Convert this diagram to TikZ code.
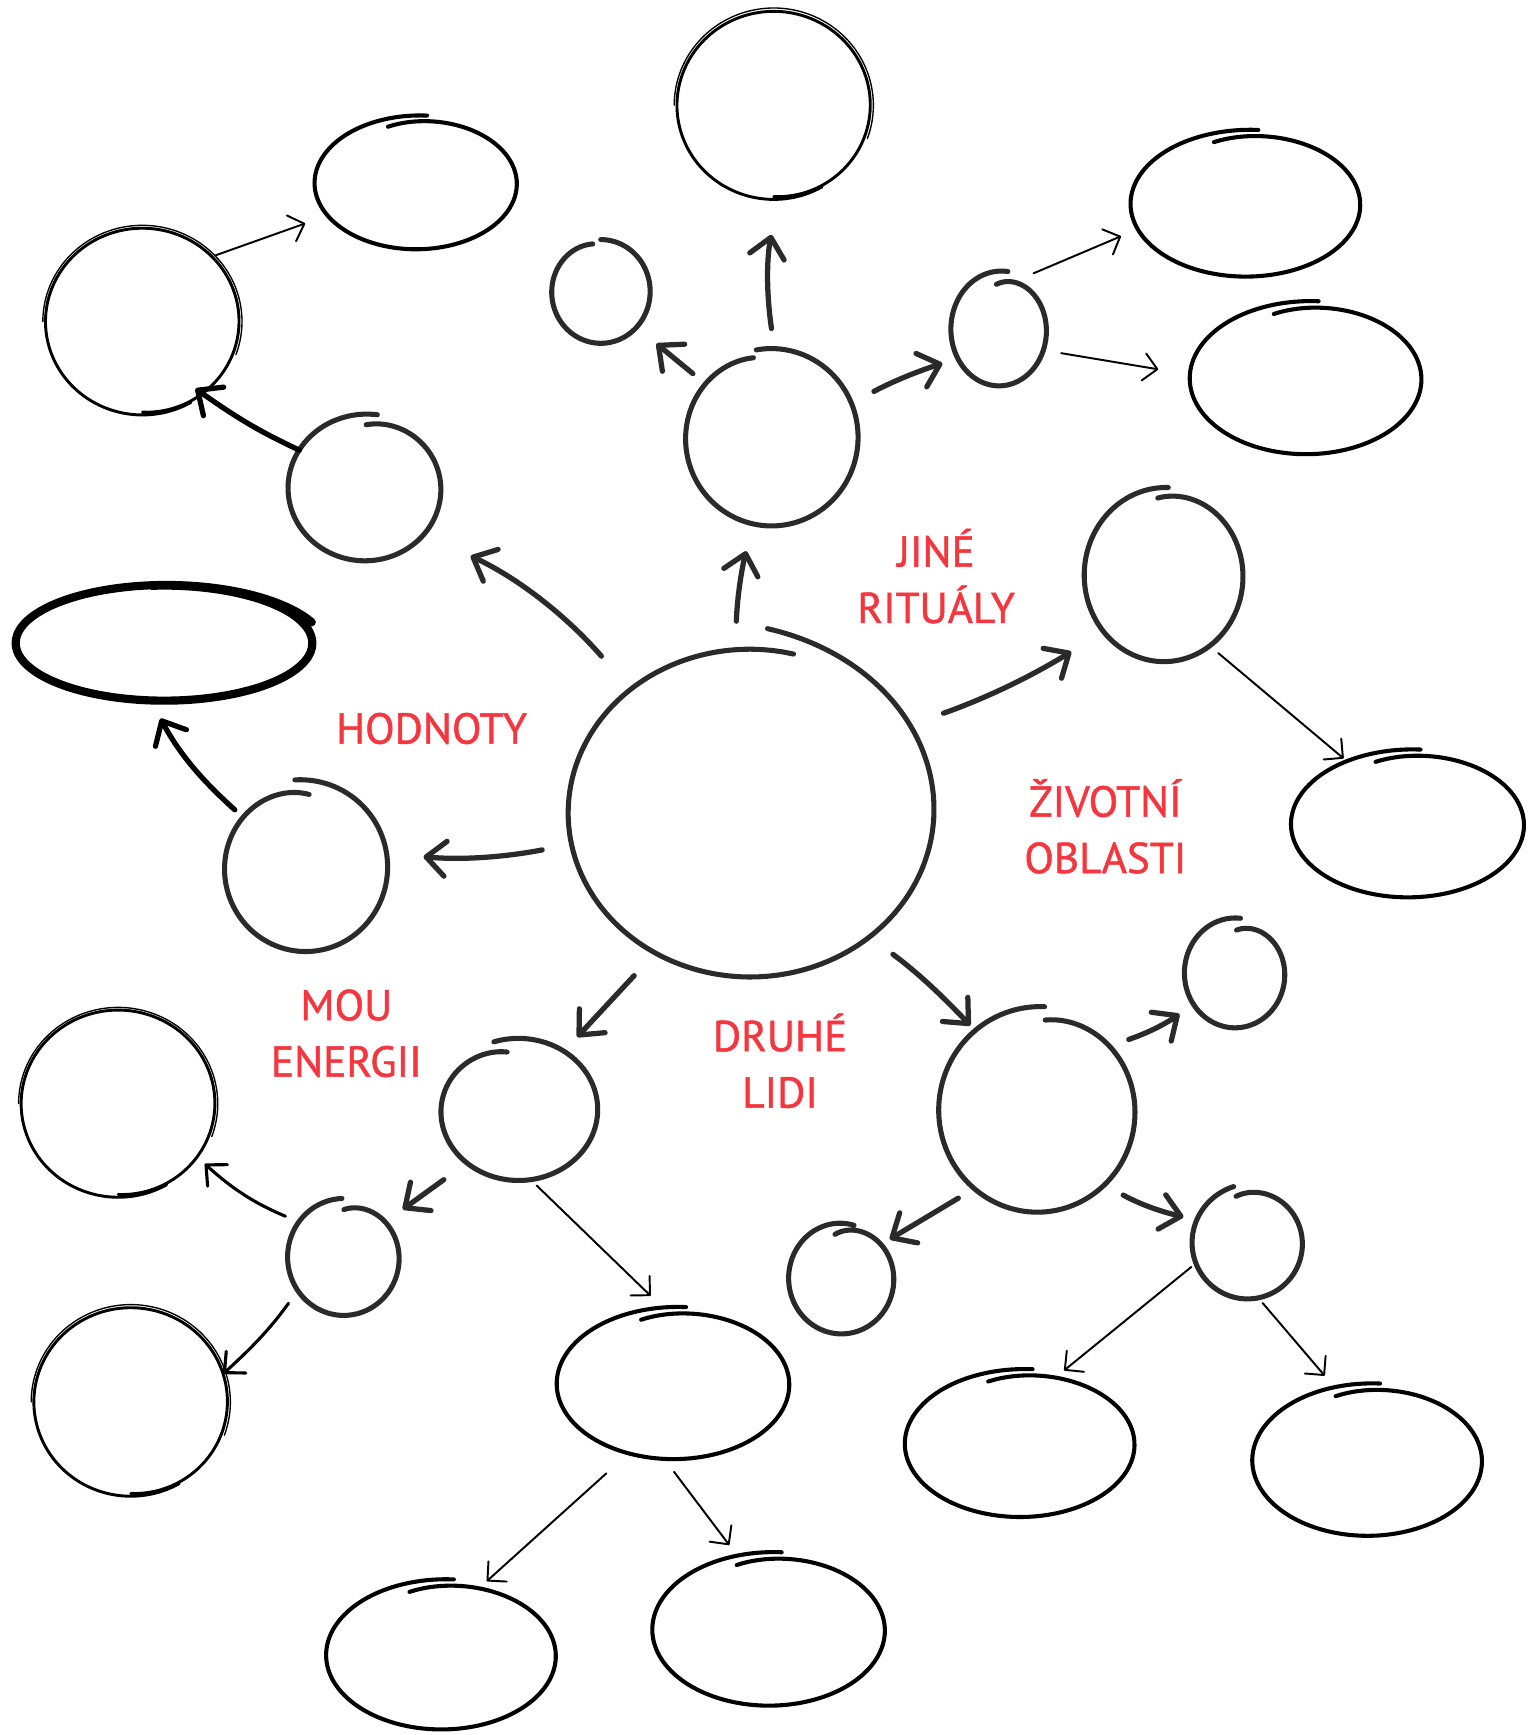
\documentclass[tikz,border=0pt]{standalone}
\usepackage{fontspec}
\setmainfont{PT Sans}
\newfontfamily\labfont{PT Sans}[FakeBold=1.1]
\usetikzlibrary{arrows.meta,shapes.geometric}
\definecolor{ink}{HTML}{2A2A2A}
\definecolor{lbl}{HTML}{F5363F}
% hand-drawn loop round a named node: style, node, rx, ry, start angle, sweep, start bump, end bump
\newcommand\hand[8][]{%
  \draw[#1, shift={(#2.center)}] plot[smooth, samples=110, variable=\u, domain=0:#6]
   ({#3*(1+(#7)*exp(-\u/40)+(#8)*exp(-(#6-\u)/40))*cos(#5-\u)},
    {-#4*(1+(#7)*exp(-\u/40)+(#8)*exp(-(#6-\u)/40))*sin(#5-\u)});}
\begin{document}
\begin{tikzpicture}[x=0.01cm, y=-0.01cm,
  nd/.style 2 args={ellipse, draw=none, inner sep=0pt, outer sep=0pt,
    minimum width=#1*0.02cm, minimum height=#2*0.02cm},
  gc/.style={draw=ink, line width=1.3pt, line cap=round, line join=round},
  be/.style={draw=black, line width=1.05pt, line cap=round, line join=round},
  tk/.style={draw=black, line width=2.1pt, line cap=round, line join=round},
  sk/.style={draw=black, line width=0.75pt, line cap=round},
  skb/.style={draw=black, line width=0.35pt, line cap=round},
  thk/.style={draw=ink, line width=1.35pt, line cap=round,
    -{Straight Barb[length=5pt,width=9pt,round]}},
  thkb/.style={thk, draw=black},
  med/.style={draw=black, line width=0.8pt, line cap=round,
    -{Straight Barb[length=4pt,width=7.5pt,round]}},
  thn/.style={draw=black, line width=0.5pt, line cap=round,
    -{Straight Barb[length=3.5pt,width=7pt,round]}},
  lab/.style={text=lbl, font=\labfont\fontsize{11.1pt}{14.5pt}\selectfont, align=center, inner sep=0pt}
]
\fill[white] (0,0) rectangle (1385,1568);
\useasboundingbox (0,0) rectangle (1385,1568);

% nodes
\node[nd={164}{148}] (c) at (677.5,734.7) {};
\node[nd={87.5}{85}] (n1) at (699.3,95.2) {};
\node[nd={44.7}{46.9}] (n2) at (542.9,263.4) {};
\node[nd={78.4}{80.2}] (n3) at (697.1,395.2) {};
\node[nd={43.5}{51.1}] (n4) at (903,297.7) {};
\node[nd={104}{65.5}] (n5) at (1126,184.5) {};
\node[nd={104.9}{68.3}] (n6) at (1180.4,342.2) {};
\node[nd={72}{78}] (n7) at (1052,520) {};
\node[nd={105.5}{66}] (n8) at (1272.5,745) {};
\node[nd={91.6}{59.7}] (n9) at (376.1,165.6) {};
\node[nd={87.6}{84.4}] (n10) at (128.7,290.6) {};
\node[nd={69.5}{65.8}] (n11) at (329.9,441.1) {};
\node[nd={134}{52}] (n12) at (148.3,581.2) {};
\node[nd={74}{76}] (n13) at (276,784) {};
\node[nd={87.7}{84.6}] (n14) at (106.8,997.4) {};
\node[nd={50.9}{52.9}] (n15) at (310.8,1136) {};
\node[nd={87.6}{85.2}] (n16) at (118.2,1267) {};
\node[nd={71.7}{64.3}] (n17) at (468.5,1002.7) {};
\node[nd={105.3}{67.9}] (n18) at (608.7,1250.8) {};
\node[nd={104}{67}] (n19) at (399,1496) {};
\node[nd={105.3}{68.5}] (n20) at (695.1,1473) {};
\node[nd={89.2}{92.1}] (n21) at (937.7,1003.5) {};
\node[nd={45.9}{49.7}] (n22) at (1116.3,879.3) {};
\node[nd={48}{50.6}] (n23) at (760.6,1155) {};
\node[nd={49.9}{50.3}] (n24) at (1127.6,1123.6) {};
\node[nd={104}{66}] (n25) at (922,1305) {};
\node[nd={104}{68}] (n26) at (1236,1320) {};

% outlines
\hand[gc]{c}{164}{148}{85}{369}{0.13}{0}
\hand[gc]{n2}{44.7}{46.9}{90}{350}{0}{-0.07}
\hand[gc]{n3}{78.4}{80.2}{100}{357}{0}{-0.08}
\hand[gc]{n4}{43.5}{51.1}{94}{374}{-0.2}{0.04}
\hand[gc]{n7}{72}{78}{95}{368}{-0.1}{0.02}
\hand[gc]{n11}{69.5}{65.8}{89}{368}{-0.13}{0.02}
\hand[gc]{n13}{74}{76}{97}{370}{0.05}{-0.13}
\hand[gc]{n15}{50.9}{52.9}{90}{358}{-0.19}{0}
\hand[gc]{n17}{71.7}{64.3}{108}{368}{0}{-0.18}
\hand[gc]{n21}{89.2}{92.1}{85}{359}{-0.11}{0.02}
\hand[gc]{n22}{45.9}{49.7}{88}{364}{-0.22}{0}
\hand[gc]{n23}{48}{50.6}{99}{383}{-0.21}{-0.03}
\hand[gc]{n24}{49.9}{50.3}{104}{360}{-0.13}{0.05}

\hand[be]{n5}{104}{65.5}{108}{384}{-0.1}{0.03}
\hand[be]{n6}{104.9}{68.3}{108}{384}{-0.1}{0.03}
\hand[be]{n8}{105.5}{66}{108}{384}{-0.1}{0.03}
\hand[be]{n9}{91.6}{59.7}{108}{384}{-0.1}{0.03}
\hand[be]{n18}{105.3}{67.9}{108}{384}{-0.1}{0.03}
\hand[be]{n19}{104}{67}{108}{384}{-0.1}{0.03}
\hand[be]{n20}{105.3}{68.5}{108}{384}{-0.1}{0.03}
\hand[be]{n25}{104}{66}{108}{384}{-0.1}{0.03}
\hand[be]{n26}{104}{68}{108}{384}{-0.1}{0.03}

\hand[tk]{n12}{134}{52}{95}{435}{0}{0.06}

\hand[sk]{n1}{87.5}{85}{-60}{390}{0}{-0.03}
\hand[skb]{n1}{90}{88}{180}{200}{0}{0}
\hand[sk]{n10}{87.6}{84.4}{-60}{390}{0}{-0.03}
\hand[skb]{n10}{90}{87}{180}{200}{0}{0}
\hand[sk]{n14}{87.7}{84.6}{-60}{390}{0}{-0.03}
\hand[skb]{n14}{90}{87}{180}{200}{0}{0}
\hand[sk]{n16}{87.6}{85.2}{-60}{390}{0}{-0.03}
\hand[skb]{n16}{90}{88}{180}{200}{0}{0}

% labels (base anchor = baseline of the last line)
\node[lab, anchor=base] (t1) at (846,563) {JINÉ\\RITUÁLY};
\node[lab, anchor=base] (t2) at (390,672) {HODNOTY};
\node[lab, anchor=base] (t3) at (999,789) {ŽIVOTNÍ\\OBLASTI};
\node[lab, anchor=base] (t4) at (313,973) {MOU\\ENERGII};
\node[lab, anchor=base] (t5) at (705,1001) {DRUHÉ\\LIDI};

% connectors
\draw[thk, shorten <=0.257cm, shorten >=0.252cm] (c.95) to[bend left=6] (n3.-102);
\draw[thk, shorten <=0.183cm, shorten >=0.327cm] (n3.88) to[bend left=10] (n1.-87);
\draw[thk, shorten <=0.122cm, shorten >=0.233cm] (n3.141) -- (n2.-45);
\draw[thk, shorten <=0.229cm, shorten >=0.146cm] (n3.23) to[bend left=5] (n4.-145);
\draw[thk, shorten <=0.375cm, shorten >=0.344cm] (c.29) to[bend right=6] (n7.-137);
\draw[thk, shorten <=0.398cm, shorten >=0.461cm] (c.134) to[bend right=12] (n11.-38);
\draw[thk, shorten <=0.269cm, shorten >=0.339cm] (c.-170) to[bend left=8] (n13.10);
\draw[thkb, shorten <=0.076cm, shorten >=0.185cm] (n13.141) to[bend left=10] (n12.-103);
\draw[thkb, shorten >=-0.087cm] (n11.150) to[bend left=5] (n10.-50);
\draw[thk, shorten <=0.28cm, shorten >=0.176cm] (c.-124) -- (n17.52);
\draw[thk, shorten <=0.27cm, shorten >=0.069cm] (c.-46) to[bend left=5] (n21.128);
\draw[thk, shorten <=0.149cm, shorten >=0.154cm] (n21.41) to[bend right=8] (n22.-143);
\draw[thk, shorten <=0.167cm, shorten >=0.069cm] (n21.-129) -- (n23.40);
\draw[thk, shorten <=0.189cm, shorten >=0.13cm] (n21.-48) to[bend right=8] (n24.155);
\draw[thk, shorten <=0.252cm, shorten >=0.168cm] (n17.-134) -- (n15.40);
\draw[thn, shorten <=0.036cm, shorten >=0.214cm] (n10.43) -- (n9.-160);
\draw[thn, shorten <=0.127cm, shorten >=0.164cm] (n4.67) -- (n5.-167);
\draw[thn, shorten <=0.158cm, shorten >=0.291cm] (n4.-25) -- (n6.178);
\draw[thn, shorten <=0.098cm, shorten >=0.047cm] (n7.-57) -- (n8.134);
\draw[med, shorten <=0.131cm, shorten >=0.087cm] (n15.142) to[bend left=10] (n14.-34);
\draw[med, shorten <=0.142cm] (n15.-144) to[bend left=6] (n16.17);
\draw[thn, shorten <=0.073cm, shorten >=0.172cm] (n17.-80) -- (n18.97);
\draw[thn, shorten <=0.269cm, shorten >=0.062cm] (n18.-123) -- (n19.60);
\draw[thn, shorten <=0.145cm, shorten >=0.132cm] (n18.-97) -- (n20.113);
\draw[thn, shorten <=0.055cm, shorten >=0.066cm] (n24.-159) -- (n25.61);
\draw[thn, shorten <=0.06cm, shorten >=0.149cm] (n24.-79) -- (n26.114);
\end{tikzpicture}
\end{document}
